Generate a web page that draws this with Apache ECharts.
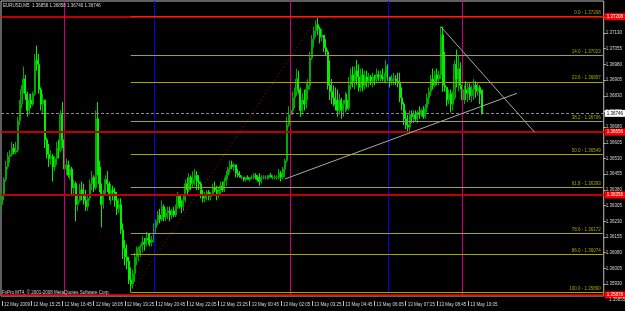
<!DOCTYPE html>
<html><head><meta charset="utf-8">
<script src="https://cdn.jsdelivr.net/npm/echarts@6/dist/echarts.min.js"></script>
<style>html,body{margin:0;padding:0;background:#000;}#c{width:625px;height:311px;}</style>
</head><body><div id="c"></div>
<script>
// ---- OHLC data (EURUSD M5, 12-13 May 2009) ----
const openP = [
1.3631,1.3636,1.3643,1.3649,1.3654,1.3655,1.3658,1.3656,1.3657,1.3671,
1.3679,1.3686,1.3691,1.3684,1.3676,1.3681,1.3679,1.3684,1.3700,1.3698,
1.3686,1.3679,1.3681,1.3662,1.3655,1.3653,1.3654,1.3649,1.3653,1.3658,
1.3657,1.3674,1.3662,1.3648,1.3650,1.3645,1.3648,1.3639,1.3641,1.3631,
1.3633,1.3638,1.3636,1.3633,1.3630,1.3634,1.3641,1.3644,1.3639,1.3672,
1.3649,1.3641,1.3631,1.3636,1.3643,1.3641,1.3636,1.3638,1.3637,1.3633,
1.3629,1.3631,1.3619,1.3610,1.3606,1.3604,1.3595,1.3593,1.3598,1.3606,
1.3607,1.3610,1.3611,1.3613,1.3612,1.3615,1.3614,1.3613,1.3614,1.3620,
1.3623,1.3626,1.3624,1.3630,1.3625,1.3627,1.3628,1.3626,1.3628,1.3626,
1.3630,1.3635,1.3631,1.3630,1.3633,1.3641,1.3638,1.3644,1.3641,1.3643,
1.3645,1.3642,1.3641,1.3636,1.3634,1.3636,1.3637,1.3635,1.3636,1.3639,
1.3638,1.3636,1.3637,1.3640,1.3638,1.3642,1.3645,1.3648,1.3650,1.3649,
1.3650,1.3646,1.3645,1.3644,1.3644,1.3643,1.3644,1.3643,1.3644,1.3644,
1.3645,1.3644,1.3643,1.3642,1.3644,1.3644,1.3644,1.3644,1.3645,1.3644,
1.3644,1.3644,1.3644,1.3646,1.3644,1.3648,1.3652,1.3669,1.3674,1.3676,
1.3682,1.3685,1.3691,1.3686,1.3676,1.3681,1.3679,1.3686,1.3688,1.3701,
1.3710,1.3714,1.3717,1.3715,1.3711,1.3712,1.3706,1.3704,1.3688,1.3685,
1.3682,1.3681,1.3679,1.3676,1.3681,1.3676,1.3679,1.3681,1.3677,1.3688,
1.3693,1.3690,1.3695,1.3692,1.3687,1.3693,1.3688,1.3692,1.3690,1.3692,
1.3690,1.3692,1.3691,1.3693,1.3692,1.3693,1.3691,1.3692,1.3697,1.3692,
1.3690,1.3691,1.3691,1.3690,1.3689,1.3682,1.3679,1.3672,1.3669,1.3668,
1.3674,1.3673,1.3674,1.3672,1.3675,1.3674,1.3676,1.3673,1.3677,1.3682,
1.3685,1.3691,1.3688,1.3693,1.3691,1.3693,1.3712,1.3688,1.3687,1.3681,
1.3684,1.3679,1.3682,1.3698,1.3691,1.3696,1.3688,1.3681,1.3686,1.3684,
1.3687,1.3683,1.3686,1.3688,1.3685,1.3687,1.36858];
const highP = [
1.3638,1.3644,1.3652,1.3656,1.3657,1.3661,1.3660,1.3661,1.3673,1.3681,
1.3688,1.3697,1.3693,1.3685,1.3684,1.3684,1.3685,1.3703,1.3707,1.3703,
1.3687,1.3684,1.3681,1.3663,1.3660,1.3657,1.3655,1.3654,1.3661,1.3662,
1.3676,1.3680,1.3662,1.3653,1.3652,1.3650,1.3649,1.3643,1.3642,1.3636,
1.3641,1.3642,1.3641,1.3638,1.3636,1.3643,1.3647,1.3645,1.3676,1.3680,
1.3652,1.3641,1.3638,1.3645,1.3647,1.3642,1.3641,1.3640,1.3639,1.3637,
1.3634,1.3634,1.3622,1.3614,1.3612,1.3606,1.3601,1.3600,1.3608,1.3611,
1.3611,1.3612,1.3616,1.3615,1.3618,1.3617,1.3617,1.3616,1.3622,1.3624,
1.3628,1.3629,1.3633,1.3631,1.3629,1.3630,1.3630,1.3629,1.3630,1.3631,
1.3637,1.3636,1.3633,1.3636,1.3643,1.3644,1.3646,1.3645,1.3647,1.3648,
1.3647,1.3645,1.3642,1.3638,1.3637,1.3638,1.3638,1.3637,1.3641,1.3642,
1.3640,1.3639,1.3642,1.3642,1.3644,1.3647,1.3649,1.3652,1.3652,1.3651,
1.3650,1.3648,1.3647,1.3645,1.3644,1.3644,1.3645,1.3644,1.3645,1.3646,
1.3646,1.3645,1.3646,1.3645,1.3645,1.3645,1.3645,1.3645,1.3646,1.3645,
1.3645,1.3645,1.3648,1.3647,1.3649,1.3653,1.3673,1.3678,1.3677,1.3685,
1.3687,1.3696,1.3695,1.3687,1.3684,1.3686,1.3689,1.3691,1.3704,1.3712,
1.3716,1.3719,1.3721,1.3716,1.3715,1.3712,1.3710,1.3705,1.3700,1.3691,
1.3688,1.3687,1.3686,1.3684,1.3682,1.3681,1.3685,1.3684,1.3692,1.3696,
1.3697,1.3697,1.3700,1.3698,1.3696,1.3696,1.3695,1.3695,1.3694,1.3693,
1.3694,1.3693,1.3696,1.3695,1.3695,1.3696,1.3694,1.3700,1.3698,1.3692,
1.3693,1.3694,1.3693,1.3694,1.3694,1.3687,1.3680,1.3676,1.3674,1.3676,
1.3676,1.3676,1.3676,1.3676,1.3678,1.3677,1.3678,1.3679,1.3684,1.3687,
1.3693,1.3696,1.3695,1.3696,1.3695,1.3716,1.3716,1.3704,1.3687,1.3686,
1.3686,1.3685,1.3700,1.3705,1.3702,1.3699,1.3692,1.3688,1.3690,1.3689,
1.3689,1.3688,1.3691,1.3690,1.3689,1.3688,1.36858];
const lowP = [
1.3628,1.3633,1.3642,1.3648,1.3651,1.3654,1.3655,1.3655,1.3656,1.3669,
1.3677,1.3684,1.3681,1.3673,1.3674,1.3677,1.3678,1.3683,1.3695,1.3684,
1.3676,1.3674,1.3658,1.3653,1.3649,1.3650,1.3642,1.3647,1.3650,1.3653,
1.3656,1.3658,1.3644,1.3645,1.3644,1.3643,1.3636,1.3635,1.3623,1.3628,
1.3632,1.3633,1.3631,1.3628,1.3628,1.3633,1.3638,1.3637,1.3638,1.3645,
1.3637,1.3620,1.3629,1.3635,1.3637,1.3633,1.3631,1.3633,1.3630,1.3626,
1.3627,1.3617,1.3605,1.3602,1.3600,1.3593,1.3589,1.3591,1.3594,1.3602,
1.3604,1.3606,1.3608,1.3609,1.3611,1.3612,1.3611,1.3611,1.3613,1.3617,
1.3621,1.3622,1.3623,1.3623,1.3623,1.3624,1.3623,1.3624,1.3625,1.3625,
1.3629,1.3629,1.3627,1.3628,1.3632,1.3636,1.3637,1.3638,1.3639,1.3640,
1.3638,1.3638,1.3634,1.3632,1.3632,1.3633,1.3633,1.3633,1.3635,1.3637,
1.3633,1.3634,1.3636,1.3637,1.3637,1.3640,1.3643,1.3646,1.3648,1.3647,
1.3644,1.3644,1.3644,1.3643,1.3642,1.3642,1.3643,1.3642,1.3643,1.3643,
1.3643,1.3642,1.3640,1.3641,1.3643,1.3643,1.3643,1.3643,1.3644,1.3643,
1.3643,1.3643,1.3643,1.3642,1.3643,1.3644,1.3651,1.3668,1.3670,1.3674,
1.3677,1.3683,1.3684,1.3673,1.3674,1.3676,1.3677,1.3681,1.3686,1.3700,
1.3706,1.3711,1.3712,1.3708,1.3709,1.3704,1.3702,1.3686,1.3681,1.3679,
1.3678,1.3676,1.3673,1.3674,1.3672,1.3673,1.3675,1.3676,1.3676,1.3686,
1.3687,1.3686,1.3688,1.3685,1.3685,1.3685,1.3686,1.3687,1.3687,1.3688,
1.3687,1.3688,1.3689,1.3690,1.3689,1.3690,1.3689,1.3689,1.3690,1.3687,
1.3688,1.3688,1.3688,1.3687,1.3680,1.3676,1.3669,1.3667,1.3665,1.3665,
1.3670,1.3670,1.3671,1.3670,1.3672,1.3673,1.3672,1.3672,1.3675,1.3679,
1.3683,1.3686,1.3687,1.3688,1.3688,1.3691,1.3685,1.3685,1.3678,1.3679,
1.3675,1.3676,1.3681,1.3687,1.3685,1.3686,1.3678,1.3679,1.3681,1.3680,
1.3681,1.3680,1.3681,1.3682,1.3683,1.3679,1.36740];
const closeP = [
1.3636,1.3643,1.3649,1.3654,1.3655,1.3658,1.3656,1.3657,1.3671,1.3679,
1.3686,1.3691,1.3684,1.3676,1.3681,1.3679,1.3684,1.3700,1.3698,1.3686,
1.3679,1.3681,1.3662,1.3655,1.3653,1.3654,1.3649,1.3653,1.3658,1.3657,
1.3674,1.3662,1.3648,1.3650,1.3645,1.3648,1.3639,1.3641,1.3631,1.3633,
1.3638,1.3636,1.3633,1.3630,1.3634,1.3641,1.3644,1.3639,1.3672,1.3649,
1.3641,1.3631,1.3636,1.3643,1.3641,1.3636,1.3638,1.3637,1.3633,1.3629,
1.3631,1.3619,1.3610,1.3606,1.3604,1.3595,1.3593,1.3598,1.3606,1.3607,
1.3610,1.3611,1.3613,1.3612,1.3615,1.3614,1.3613,1.3614,1.3620,1.3623,
1.3626,1.3624,1.3630,1.3625,1.3627,1.3628,1.3626,1.3628,1.3626,1.3630,
1.3635,1.3631,1.3630,1.3633,1.3641,1.3638,1.3644,1.3641,1.3643,1.3645,
1.3642,1.3641,1.3636,1.3634,1.3636,1.3637,1.3635,1.3636,1.3639,1.3638,
1.3636,1.3637,1.3640,1.3638,1.3642,1.3645,1.3648,1.3650,1.3649,1.3650,
1.3646,1.3645,1.3644,1.3644,1.3643,1.3644,1.3643,1.3644,1.3644,1.3645,
1.3644,1.3643,1.3642,1.3644,1.3644,1.3644,1.3644,1.3645,1.3644,1.3644,
1.3644,1.3644,1.3646,1.3644,1.3648,1.3652,1.3669,1.3674,1.3676,1.3682,
1.3685,1.3691,1.3686,1.3676,1.3681,1.3679,1.3686,1.3688,1.3701,1.3710,
1.3714,1.3717,1.3715,1.3711,1.3712,1.3706,1.3704,1.3688,1.3685,1.3682,
1.3681,1.3679,1.3676,1.3681,1.3676,1.3679,1.3681,1.3677,1.3688,1.3693,
1.3690,1.3695,1.3692,1.3687,1.3693,1.3688,1.3692,1.3690,1.3692,1.3690,
1.3692,1.3691,1.3693,1.3692,1.3693,1.3691,1.3692,1.3697,1.3692,1.3690,
1.3691,1.3691,1.3690,1.3689,1.3682,1.3679,1.3672,1.3669,1.3668,1.3674,
1.3673,1.3674,1.3672,1.3675,1.3674,1.3676,1.3673,1.3677,1.3682,1.3685,
1.3691,1.3688,1.3693,1.3691,1.3693,1.3712,1.3688,1.3687,1.3681,1.3684,
1.3679,1.3682,1.3698,1.3691,1.3696,1.3688,1.3681,1.3686,1.3684,1.3687,
1.3683,1.3686,1.3688,1.3685,1.3687,1.3684,1.36746];

// ---- axes ----
const totalBars = 309;             // visible bar slots (incl. empty right shift)
const firstBarTime = Date.UTC(2009, 4, 12, 14, 10);
const tickLabels = ["12 May 2009","12 May 15:25","12 May 16:45","12 May 18:05","12 May 19:25","12 May 20:45",
  "12 May 22:05","12 May 23:25","13 May 00:45","13 May 02:05","13 May 03:25","13 May 04:45",
  "13 May 06:05","13 May 07:25","13 May 08:45","13 May 10:05"];
const tickBars = [0,15,31,47,63,79,95,111,127,143,159,175,191,207,223,239];
const priceTicks = [1.37205,1.37130,1.37055,1.36980,1.36905,1.36830,1.36755,1.36680,1.36605,1.36530,
  1.36455,1.36380,1.36305,1.36230,1.36155,1.36080,1.36005,1.35930];
const extraPriceTick = 1.35855;
const yMin = 1.35873, yMax = 1.37283;

// ---- objects ----
const fibLevels = ["0.0","14.0","23.6","38.2","50.0","61.8","78.6","86.0","100.0"];
const fibPrices = [1.37208,1.37023,1.36897,1.36706,1.36549,1.36393,1.36172,1.36074,1.35890];
const fibStartBar = 66, fibHighBar = 162;
const redLines = [1.37208,1.36656,1.36356,1.35878];
const redLineStrong = [true,false,false,true];
const bidPrice = 1.36746;
const magentaBars = [32,148,236];
const blueBars = [78,198];
const trendUp = [[145,1.36432],[264,1.36842]];
const trendDown = [[225,1.37160],[273,1.36656]];
const headerText = "EURUSD,M5  1.36858 1.36858 1.36740 1.36746";
const copyrightText = "FxPro MT4, \u00A9 2001-2008 MetaQuotes Software Corp.";

const mon = ["Jan","Feb","Mar","Apr","May","Jun","Jul","Aug","Sep","Oct","Nov","Dec"];
const pad = n => (n < 10 ? "0" : "") + n;
const categories = [];
for (let i = 0; i < totalBars; i++) {
  const d = new Date(firstBarTime + i * 300000);
  categories.push(d.getUTCDate() + " " + mon[d.getUTCMonth()] + " " + pad(d.getUTCHours()) + ":" + pad(d.getUTCMinutes()));
}
const ohlc = openP.map((o, i) => [o, closeP[i], lowP[i], highP[i]]);

const FONT = "Liberation Sans";
const FS = 4.5;
const fibColor = "#a6a600";
const isTick = idx => tickBars.indexOf(idx) >= 0;

const mlObjects = [];
fibPrices.forEach((p, i) => {
  mlObjects.push([{coord: [fibStartBar, p], lineStyle: {color: fibColor, width: 1, type: "solid"},
    label: {show: true, position: "insideEndTop", formatter: fibLevels[i] + " - " + p.toFixed(5),
      color: fibColor, fontSize: FS, fontFamily: FONT, distance: [2, 1]}},
    {coord: [totalBars - 1, p]}]);
});
redLines.forEach((p, i) => {
  mlObjects.push({yAxis: p, lineStyle: {color: redLineStrong[i] ? "#ff0000" : "#c00000", width: redLineStrong[i] ? 1.5 : 2, type: "solid"},
    label: {show: true, position: "end", formatter: p.toFixed(5), color: "#ffffff", backgroundColor: "#ff0000",
      fontSize: FS, fontFamily: FONT, padding: [1, 2, 1, 2], distance: 1}});
});
mlObjects.push({yAxis: bidPrice, lineStyle: {color: "#8c8c8c", width: 1, type: [3, 2]},
  label: {show: true, position: "end", formatter: bidPrice.toFixed(5), color: "#000000", backgroundColor: "#ffffff",
    fontSize: FS, fontFamily: FONT, padding: [1, 2, 1, 2], distance: 1}});
mlObjects.push([{coord: [fibStartBar, fibPrices[8]], lineStyle: {color: "#c80000", width: 1, type: [1, 3]}, label: {show: false}},
  {coord: [fibHighBar, fibPrices[0]]}]);
[trendUp, trendDown].forEach(t => mlObjects.push([{coord: t[0], lineStyle: {color: "#a8a8a8", width: 1, type: "solid"}, label: {show: false}},
  {coord: t[1]}]));

function vLineSeries(name, bars, color) {
  return {
    name: name, type: "line", data: [], silent: true, z: 1,
    markLine: {symbol: ["none", "none"], silent: true, animation: false,
      lineStyle: {color: color, width: 1, type: "solid", opacity: 1},
      label: {show: false},
      data: bars.map(b => ({xAxis: b}))}
  };
}

const chart = echarts.init(document.getElementById("c"), null, {renderer: "canvas"});
chart.setOption({
  animation: false,
  backgroundColor: "#000000",
  grid: {left: 1, top: 1, right: 18, bottom: 15, show: true, borderColor: "#bdbdbd", borderWidth: 1, backgroundColor: "#000000"},
  xAxis: {
    type: "category", data: categories, boundaryGap: true, offset: 5,
    axisLine: {show: false},
    axisTick: {show: true, alignWithLabel: true, length: 5, interval: idx => isTick(idx), lineStyle: {color: "#bdbdbd"}},
    axisLabel: {show: true, interval: idx => isTick(idx), align: "left", margin: 1, padding: [0, 0, 0, 2],
      formatter: (v, idx) => tickLabels[tickBars.indexOf(idx)] || "",
      color: "#d8d8d8", fontSize: FS, fontFamily: FONT},
    splitLine: {show: false}
  },
  yAxis: {
    type: "value", position: "right", min: yMin, max: yMax, scale: true,
    axisLine: {show: false}, splitLine: {show: false},
    axisTick: {show: true, length: 2, customValues: priceTicks, lineStyle: {color: "#bdbdbd"}},
    axisLabel: {show: true, customValues: priceTicks, margin: 2, formatter: v => v.toFixed(5),
      color: "#d8d8d8", fontSize: FS, fontFamily: FONT}
  },
  series: [
    vLineSeries("magenta", magentaBars, "#c8007c"),
    vLineSeries("blue", blueBars, "#0000f0"),
    {
      type: "candlestick", data: ohlc, barWidth: "80%", z: 2,
      itemStyle: {color: "#006e00", color0: "#00f000", borderColor: "#00a800", borderColor0: "#00f000", borderWidth: 1},
      markLine: {symbol: ["none", "none"], silent: true, animation: false, precision: 5, data: mlObjects}
    }
  ]
});
const yExtra = chart.convertToPixel({yAxisIndex: 0}, extraPriceTick);
chart.setOption({
  graphic: [
    {type: "text", left: 3, top: 3, z: 100, style: {text: headerText, fill: "#d8d8d8", font: FS + "px '" + FONT + "'"}},
    {type: "text", left: 2, top: 290, z: 100, style: {text: copyrightText, fill: "#d8d8d8", font: FS + "px '" + FONT + "'"}},
    {type: "text", x: 609, y: yExtra, z: 100, style: {text: extraPriceTick.toFixed(5), fill: "#d8d8d8",
      font: FS + "px '" + FONT + "'", verticalAlign: "middle"}}
  ]
});
</script></body></html>
